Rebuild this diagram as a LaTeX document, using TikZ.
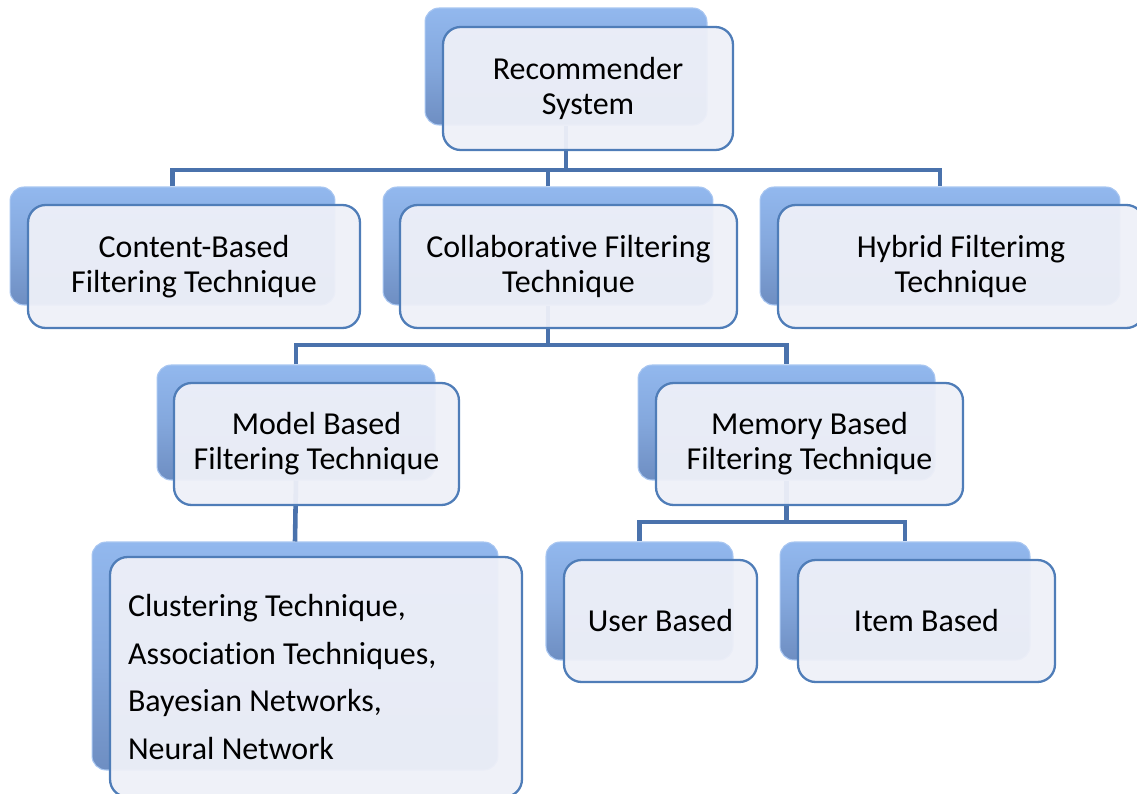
\documentclass[tikz,border=0pt]{standalone}
\usepackage{fontspec}
\setmainfont[RawFeature={-liga;-clig;-dlig;-calt;-rlig}]{Carlito}
\usepackage{xcolor}
\usepackage{tikz}
\usetikzlibrary{positioning}

\definecolor{linkblue}{HTML}{4A72AC}
\definecolor{edgeblue}{HTML}{4F7DB8}
\definecolor{shadowdark}{HTML}{6E8EC2}
\definecolor{shadowlight}{HTML}{92B8EE}
\definecolor{boxfill}{HTML}{EEF0F8}

\tikzset{
  backbox/.style={rounded corners=8pt, top color=shadowlight, bottom color=shadowdark,
    middle color=shadowlight!60!shadowdark,
    draw=shadowlight!80!white, line width=0.6pt, inner sep=0pt},
  frontbox/.style={rounded corners=10pt, draw=edgeblue, line width=1.3pt,
    fill=boxfill, fill opacity=0.95, text opacity=1, inner sep=0pt,
    align=center, font=\fontsize{18.2}{19.8}\selectfont},
  link/.style={draw=linkblue, line width=2.6pt}
}

\begin{document}
\begin{tikzpicture}[x=0.02cm,y=-0.02cm]
  \useasboundingbox (0,0) rectangle (1137,794);

  % back plates
  \node[backbox, minimum width=5.64cm, minimum height=2.34cm] (rec-b) at (566,66.5) {};
  \node[backbox, minimum width=6.5cm, minimum height=2.36cm] (cbf-b) at (172.5,246) {};
  \node[backbox, minimum width=6.6cm, minimum height=2.36cm] (cf-b) at (548,246) {};
  \node[backbox, minimum width=7.2cm, minimum height=2.36cm] (hyb-b) at (940,246) {};
  \node[backbox, minimum width=5.56cm, minimum height=2.3cm] (mod-b) at (296,422.5) {};
  \node[backbox, minimum width=5.94cm, minimum height=2.3cm] (mem-b) at (786.5,422.5) {};
  \node[backbox, minimum width=8.12cm, minimum height=4.56cm] (alg-b) at (295,656) {};
  \node[backbox, minimum width=3.74cm, minimum height=2.36cm] (usr-b) at (639.5,601) {};
  \node[backbox, minimum width=5.0cm, minimum height=2.36cm] (itm-b) at (905,601) {};

  % connectors
  \coordinate (j1) at (566,170);
  \coordinate (j2) at (548,345);
  \coordinate (j3) at (786.5,522);
  \draw[link] (rec-b.south) -- (j1);
  \draw[link] (cbf-b.north) |- (j1) -| (hyb-b.north);
  \draw[link] (cf-b.north) -- (cf-b.north |- j1);
  \draw[link] (cf-b.south) -- (j2);
  \draw[link] (mod-b.north) |- (j2) -| (mem-b.north);
  \draw[link] (mod-b.south) -- (alg-b.north);
  \draw[link] (mem-b.south) -- (j3);
  \draw[link] (usr-b.north) |- (j3) -| (itm-b.north);

  % front boxes
  \node[frontbox, minimum width=5.8cm, minimum height=2.46cm] (rec) at (588,88.5) {Recommender\\System};
  \node[frontbox, minimum width=6.64cm, minimum height=2.46cm] (cbf) at (194,266.5) {Content-Based\\Filtering Technique};
  \node[frontbox, minimum width=6.74cm, minimum height=2.46cm] (cf) at (568.5,266.5) {Collaborative Filtering\\Technique};
  \node[frontbox, minimum width=7.32cm, minimum height=2.46cm] (hyb) at (961,266.5) {Hybrid Filterimg\\Technique};
  \node[frontbox, minimum width=5.7cm, minimum height=2.44cm] (mod) at (316.5,444) {Model Based\\Filtering Technique};
  \node[frontbox, minimum width=6.14cm, minimum height=2.44cm] (mem) at (809.5,444) {Memory Based\\Filtering Technique};
  \node[frontbox, minimum width=8.24cm, minimum height=4.8cm, text width=7.52cm, inner xsep=0.36cm,
    align=flush left, font=\fontsize{18.2}{27.3}\selectfont] (alg) at (316,677)
    {Clustering Technique,\\Association Techniques,\\Bayesian Networks,\\Neural Network};
  \node[frontbox, minimum width=3.86cm, minimum height=2.44cm] (usr) at (660.5,621) {User Based};
  \node[frontbox, minimum width=5.14cm, minimum height=2.44cm] (itm) at (926.5,621) {Item Based};
\end{tikzpicture}
\end{document}
